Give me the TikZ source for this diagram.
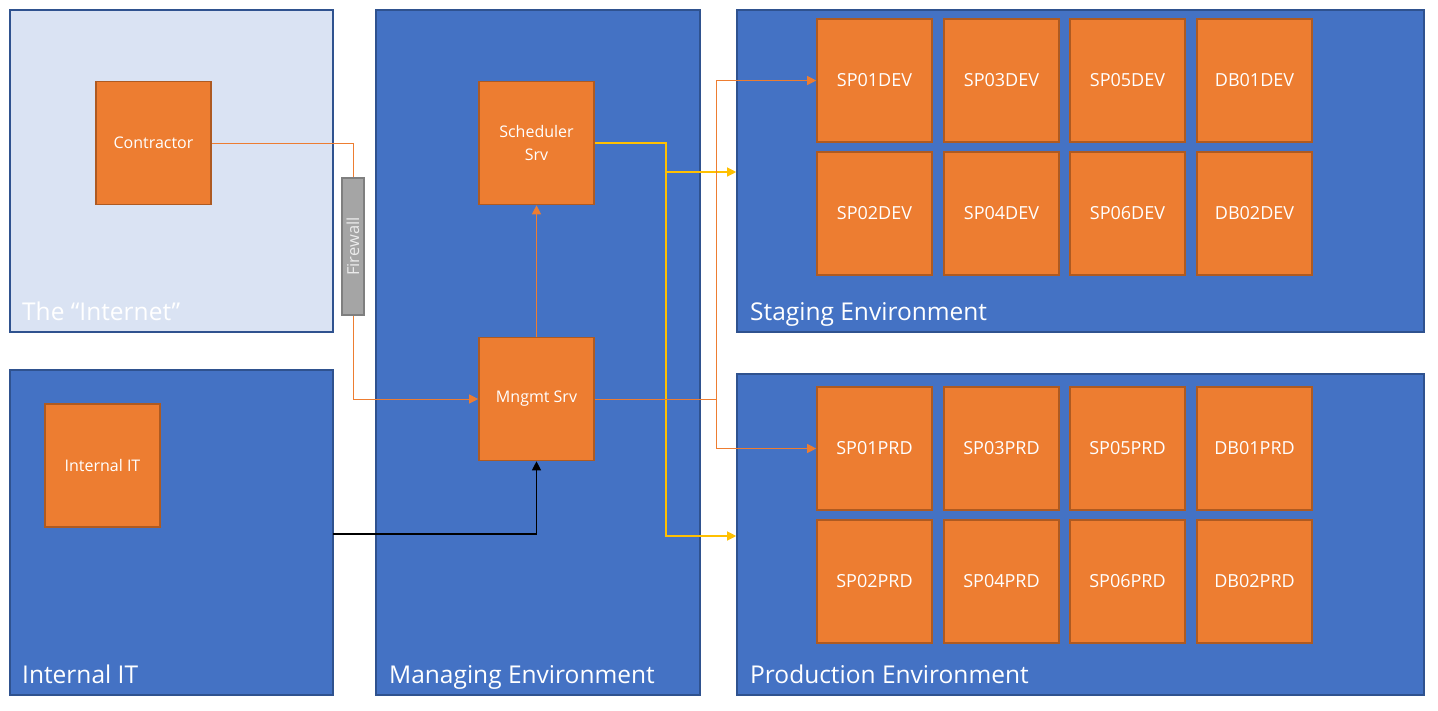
\documentclass[tikz,border=0pt]{standalone}
\usepackage{fontspec}
\setmainfont{Open Sans}
\usetikzlibrary{arrows.meta}

\definecolor{envblue}{HTML}{4472C4}
\definecolor{envline}{HTML}{2F528F}
\definecolor{netblue}{HTML}{DAE3F3}
\definecolor{srvorange}{HTML}{ED7D31}
\definecolor{srvline}{HTML}{AE5A21}
\definecolor{fwgray}{HTML}{A5A5A5}
\definecolor{fwline}{HTML}{7F7F7F}
\definecolor{linkyellow}{HTML}{FFC000}

\begin{document}
\begin{tikzpicture}[x=1pt, y=-1pt, line join=miter,
    env/.style={draw=envline, line width=1.6pt, fill=envblue, inner sep=0pt,
        minimum width=#1},
    envtitle/.style={anchor=base west, text=white, font=\fontsize{24.5}{28}\selectfont,
        inner sep=0pt},
    srv/.style={draw=srvline, line width=1.6pt, fill=srvorange, text=white,
        minimum width=115pt, minimum height=123pt, inner sep=0pt,
        font=\fontsize{18}{21}\selectfont},
    mgr/.style={srv, font=\fontsize{16}{20}\selectfont, align=center},
    oline/.style={draw=srvorange, line width=1pt},
    yline/.style={draw=linkyellow, line width=1.2pt},
    >={Triangle[length=9pt, width=9pt]}]

    % 全体の大きさ
    \useasboundingbox (0,0) rectangle (1438,710);

    % 列と行の位置
    \pgfmathsetmacro{\Ra}{80.5}  % Staging 上段
    \pgfmathsetmacro{\Rb}{213.5} % Staging 下段
    \pgfmathsetmacro{\Rc}{448.5} % Production 上段
    \pgfmathsetmacro{\Rd}{581.5} % Production 下段

    % 環境の枠
    \node[env=323pt, minimum height=322pt, fill=netblue] (Internet) at (171.5,171) {};
    \node[env=323pt, minimum height=325pt] (ITEnv) at (171.5,532.5) {};
    \node[env=324pt, minimum height=685pt] (Managing) at (538,352.5) {};
    \node[env=687pt, minimum height=322pt] (Staging) at (1080.5,171) {};
    \node[env=687pt, minimum height=321pt] (Production) at (1080.5,534.5) {};

    % 環境の名前
    \node[envtitle] (InternetT) at (22,320) {The “Internet”};
    \node[envtitle] (ITEnvT) at (22,683) {Internal IT};
    \node[envtitle] (ManagingT) at (389,683) {Managing Environment};
    \node[envtitle] (StagingT) at (750,320) {Staging Environment};
    \node[envtitle] (ProductionT) at (750,683) {Production Environment};

    % 管理側のサーバ
    \node[mgr] (Contractor) at (153.5,143) {Contractor};
    \node[mgr] (InternalIT) at (102.5,465.5) {Internal IT};
    \node[mgr] (Scheduler) at (536.5,143) {Scheduler\\[3pt]Srv};
    \node[mgr] (Mngmt) at (536.5,399) {Mngmt Srv};

    % ファイアウォール
    \node[draw=fwline, line width=1.6pt, fill=fwgray, text=white!92!black,
        rotate=90, minimum width=137pt, minimum height=22pt, inner sep=0pt,
        font=\fontsize{16.5}{18}\selectfont] (Firewall) at (353,246.5) {Firewall};

    % Staging / Production のサーバ
    \foreach \cx/\lbl in {874.5/SP01,1001.5/SP03,1127.5/SP05,1254.5/DB01} {
        \node[srv] (\lbl DEV) at (\cx,\Ra) {\lbl DEV};
        \node[srv] (\lbl PRD) at (\cx,\Rc) {\lbl PRD};
    }
    \foreach \cx/\lbl in {874.5/SP02,1001.5/SP04,1127.5/SP06,1254.5/DB02} {
        \node[srv] (\lbl DEV) at (\cx,\Rb) {\lbl DEV};
        \node[srv] (\lbl PRD) at (\cx,\Rd) {\lbl PRD};
    }

    % 分岐点
    \coordinate (itout) at (333,534);
    \coordinate (ybranch) at (666,172);
    \coordinate (ydown) at (666,536);
    \coordinate (obranch) at (716,399);

    % 接続線
    \draw[oline] (Contractor.east) -| (Firewall.east);
    \draw[oline, ->] (Firewall.west) |- (Mngmt.west);
    \draw[oline, ->] (Mngmt.north) -- (Scheduler.south);
    \draw[line width=1.2pt, ->] (itout) -| (Mngmt.south);

    \draw[yline] (Scheduler.east) -| (ybranch);
    \draw[yline, ->] (ybranch) -- (ybranch -| Staging.west);
    \draw[yline, ->] (ybranch) -- (ydown) -- (ydown -| Production.west);

    \draw[oline] (Mngmt.east) -- (obranch);
    \draw[oline, ->] (obranch) |- (SP01DEV.west);
    \draw[oline, ->] (obranch) |- (SP01PRD.west);

\end{tikzpicture}
\end{document}
